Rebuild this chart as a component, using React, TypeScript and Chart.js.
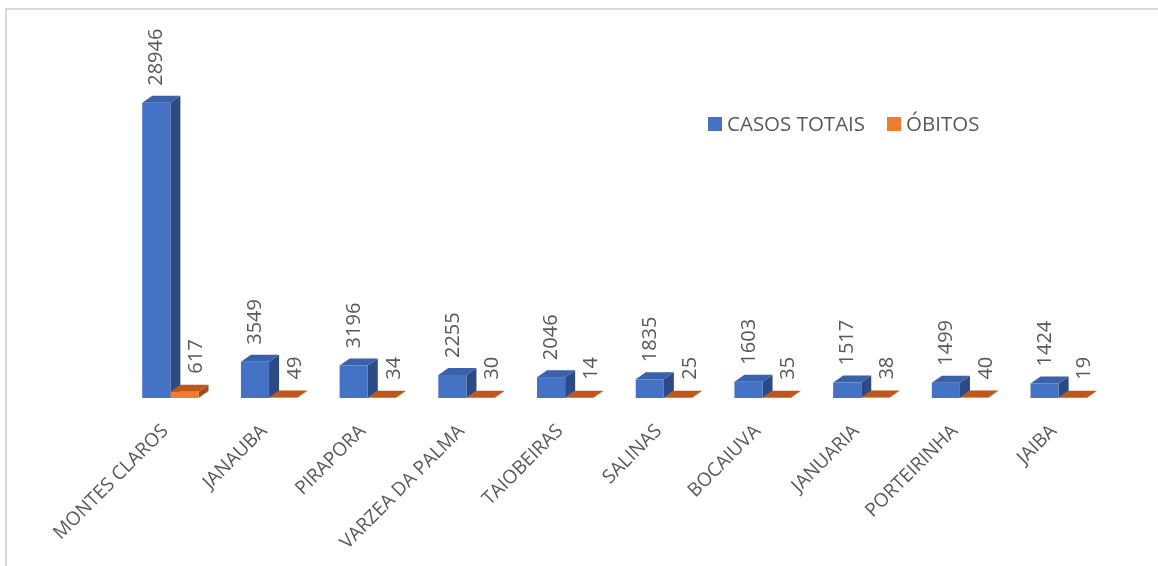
import React, { useEffect, useRef } from "react";
import { Chart, registerables } from "chart.js";

Chart.register(...registerables);

const categories = [
  "MONTES CLAROS",
  "JANAUBA",
  "PIRAPORA",
  "VARZEA DA PALMA",
  "TAIOBEIRAS",
  "SALINAS",
  "BOCAIUVA",
  "JANUARIA",
  "PORTEIRINHA",
  "JAIBA",
];
const casosTotais = [28946, 3549, 3196, 2255, 2046, 1835, 1603, 1517, 1499, 1424];
const obitos = [617, 49, 34, 30, 14, 25, 35, 38, 40, 19];
const seriesNames = ["CASOS TOTAIS", "ÓBITOS"];

const FONT = "'Open Sans', 'DejaVu Sans', sans-serif";
const TEXT = "#595959";
const COLORS = [
  { front: "#4472C4", top: "#3A62AC", side: "#2C4A84" },
  { front: "#ED7D31", top: "#C0561A", side: "#A34A16" },
];
const DX = 10;
const DY = 7;
const LEGEND_X = [708, 887];

const threeD = {
  id: "threeD",
  beforeDatasetsDraw(chart: any) {
    const ctx = chart.ctx;
    ctx.save();
    chart.data.datasets.forEach((_: any, di: number) => {
      const meta = chart.getDatasetMeta(di);
      const c = COLORS[di];
      meta.data.forEach((el: any) => {
        const { x, y, base, width } = el.getProps(["x", "y", "base", "width"], true);
        const l = x - width / 2;
        const r = x + width / 2;
        ctx.fillStyle = c.side;
        ctx.beginPath();
        ctx.moveTo(r, y);
        ctx.lineTo(r + DX, y - DY);
        ctx.lineTo(r + DX, base - DY);
        ctx.lineTo(r, base);
        ctx.closePath();
        ctx.fill();
        ctx.fillStyle = c.top;
        ctx.beginPath();
        ctx.moveTo(l, y);
        ctx.lineTo(l + DX, y - DY);
        ctx.lineTo(r + DX, y - DY);
        ctx.lineTo(r, y);
        ctx.closePath();
        ctx.fill();
      });
    });
    ctx.restore();
  },
  afterDatasetsDraw(chart: any) {
    const ctx = chart.ctx;
    ctx.save();
    ctx.font = `20px ${FONT}`;
    ctx.fillStyle = TEXT;
    ctx.textAlign = "left";
    ctx.textBaseline = "middle";
    chart.data.datasets.forEach((ds: any, di: number) => {
      const meta = chart.getDatasetMeta(di);
      meta.data.forEach((el: any, i: number) => {
        const { x, y } = el.getProps(["x", "y"], true);
        const lx = di === 0 ? x + 0.5 : x + 12;
        const ly = y - (di === 0 ? 17 : 18);
        ctx.save();
        ctx.translate(lx, ly);
        ctx.rotate(-Math.PI / 2);
        ctx.fillText(String(ds.data[i]), 0, 0);
        ctx.restore();
      });
    });
    ctx.restore();
  },
  afterDraw(chart: any) {
    const ctx = chart.ctx;
    ctx.save();
    ctx.font = `20.5px ${FONT}`;
    ctx.textBaseline = "alphabetic";
    ctx.textAlign = "left";
    seriesNames.forEach((name, i) => {
      const x = LEGEND_X[i];
      ctx.fillStyle = COLORS[i].front;
      ctx.fillRect(x, 117, 14, 14);
      ctx.fillStyle = TEXT;
      ctx.fillText(name, x + 19, 131);
    });
    ctx.restore();
  },
};

export default function App() {
  const ref = useRef<HTMLCanvasElement | null>(null);
  useEffect(() => {
    if (!ref.current) return;
    const chart = new Chart(ref.current, {
      type: "bar",
      data: {
        labels: categories,
        datasets: [
          {
            label: seriesNames[0],
            data: casosTotais,
            backgroundColor: COLORS[0].front,
            categoryPercentage: 0.57,
            barPercentage: 1,
          },
          {
            label: seriesNames[1],
            data: obitos,
            backgroundColor: COLORS[1].front,
            categoryPercentage: 0.57,
            barPercentage: 1,
          },
        ],
      },
      options: {
        responsive: false,
        animation: false,
        layout: { padding: { left: 121, right: 50, top: 92, bottom: 0 } },
        plugins: {
          legend: { display: false },
          tooltip: { enabled: false },
        },
        scales: {
          y: { display: false, min: 0, max: 30000 },
          x: {
            grid: { display: false },
            border: { display: false },
            ticks: {
              autoSkip: false,
              minRotation: 45,
              maxRotation: 45,
              padding: 14,
              labelOffset: -5,
              color: TEXT,
              font: { family: FONT, size: 19 },
            },
            afterFit: (scale: any) => {
              scale.height = 168;
            },
          },
        },
      },
      plugins: [threeD],
    });
    return () => chart.destroy();
  }, []);

  return (
    <div style={{ position: "fixed", left: 0, top: 0, width: 1158, height: 566, background: "#fff" }}>
      <div
        style={{
          position: "absolute",
          left: 5,
          top: 8,
          right: 0,
          bottom: 0,
          borderTop: "2px solid #d9d9d9",
          borderLeft: "2px solid #d9d9d9",
        }}
      />
      <canvas ref={ref} width={1158} height={566} style={{ position: "absolute", left: 0, top: 0, display: "block" }} />
    </div>
  );
}
